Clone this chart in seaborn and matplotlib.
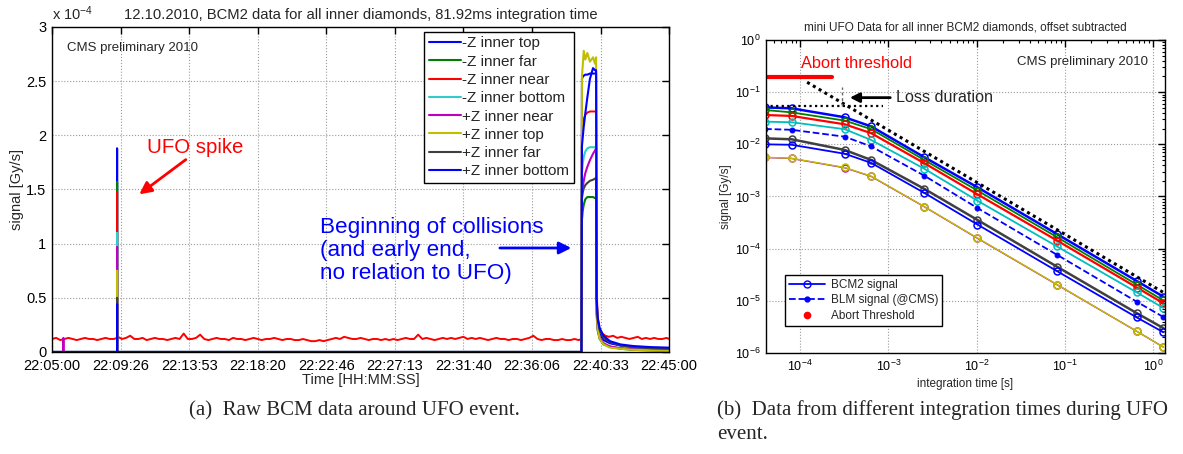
import numpy as np
import pandas as pd
import matplotlib
matplotlib.use("Agg")
import matplotlib.pyplot as plt
from matplotlib.lines import Line2D
from matplotlib.ticker import FixedLocator, LogLocator, NullFormatter
import seaborn as sns

# ---------------- data: left panel (signal in units of 1e-4 Gy/s) ----------------
channels = ["-Z inner top", "-Z inner far", "-Z inner near", "-Z inner bottom",
            "+Z inner near", "+Z inner top", "+Z inner far", "+Z inner bottom"]
channel_colors = ["#0000ff", "#008000", "#ff0000", "#33cccc",
                  "#bf00bf", "#bfbf00", "#404040", "#0000ff"]
time_tick_labels = ["22:05:00", "22:09:26", "22:13:53", "22:18:20", "22:22:46",
                    "22:27:13", "22:31:40", "22:36:06", "22:40:33", "22:45:00"]
time_span_s = 2400  # 22:05:00 -> 22:45:00

# key sample times (s after 22:05:00) for the quiet channels
key_t = [0, 44.0, 44.1, 44.2, 252.9, 253.0, 253.1, 2059, 2061, 2064, 2068, 2074, 2082,
         2092, 2104, 2112, 2116, 2118, 2122, 2130, 2145, 2170, 2210, 2260, 2330, 2400]
sig_mZ_top = [0, 0, 0, 0, 0, 1.88, 0, 0, 2.52, 2.54, 2.55, 2.56, 2.56, 2.57, 2.57, 2.57, 2.57,
              0.45, 0.26, 0.17, 0.11, 0.08, 0.06, 0.045, 0.035, 0.03]
sig_mZ_far = [0, 0, 0, 0, 0, 1.57, 0, 0, 1.22, 1.30, 1.36, 1.41, 1.43, 1.43, 1.43, 1.42, 1.43,
              0.35, 0.20, 0.12, 0.07, 0.05, 0.03, 0.02, 0.015, 0.01]
sig_mZ_bottom = [0, 0, 0, 0, 0, 1.10, 0, 0, 1.65, 1.74, 1.80, 1.85, 1.88, 1.89, 1.89, 1.89, 1.89,
                 0.40, 0.22, 0.13, 0.08, 0.05, 0.035, 0.025, 0.02, 0.015]
sig_pZ_near = [0, 0, 0.13, 0, 0, 0.97, 0, 0, 1.45, 1.52, 1.58, 1.65, 1.71, 1.77, 1.83, 1.86, 1.88,
               0.40, 0.22, 0.13, 0.08, 0.05, 0.035, 0.025, 0.02, 0.015]
sig_pZ_top = [0, 0, 0, 0, 0, 0.75, 0, 0, 2.55, 2.64, 2.78, 2.70, 2.76, 2.68, 2.72, 2.66, 2.72,
              0.40, 0.22, 0.12, 0.07, 0.04, 0.03, 0.02, 0.015, 0.01]
sig_pZ_far = [0, 0, 0, 0, 0, 0.50, 0, 0, 1.42, 1.47, 1.51, 1.54, 1.56, 1.58, 1.59, 1.60, 1.61,
              0.50, 0.30, 0.20, 0.13, 0.09, 0.06, 0.045, 0.035, 0.03]
sig_pZ_bottom = [0, 0, 0, 0, 0, 0.44, 0, 0, 1.90, 1.98, 2.08, 2.20, 2.35, 2.52, 2.62, 2.60, 2.60,
                 0.50, 0.32, 0.22, 0.15, 0.10, 0.07, 0.055, 0.045, 0.04]

# -Z inner near (red) has a visible noisy baseline; readings every 16 s before collisions
red_base_v = [0.12, 0.13, 0.11, 0.12, 0.13, 0.12, 0.11, 0.12, 0.13, 0.12, 0.12, 0.11, 0.12, 0.13, 0.12, 0.12,
              0.14, 0.12, 0.13, 0.15, 0.12, 0.12, 0.13, 0.11, 0.12, 0.13, 0.12, 0.12, 0.11, 0.12, 0.13, 0.12,
              0.17, 0.12, 0.12, 0.13, 0.16, 0.12, 0.11, 0.12, 0.13, 0.12, 0.12, 0.11, 0.13, 0.12, 0.12, 0.11,
              0.12, 0.13, 0.12, 0.11, 0.12, 0.12, 0.13, 0.12, 0.11, 0.12, 0.12, 0.11, 0.11, 0.12, 0.11, 0.10,
              0.10, 0.11, 0.10, 0.11, 0.12, 0.13, 0.12, 0.14, 0.13, 0.12, 0.12, 0.13, 0.12, 0.11, 0.12, 0.12,
              0.11, 0.12, 0.11, 0.12, 0.11, 0.12, 0.13, 0.12, 0.12, 0.16, 0.12, 0.13, 0.12, 0.11, 0.12, 0.13,
              0.12, 0.13, 0.12, 0.13, 0.14, 0.12, 0.13, 0.12, 0.13, 0.12, 0.11, 0.12, 0.13, 0.12, 0.12, 0.11,
              0.12, 0.12, 0.11, 0.12, 0.13, 0.15, 0.12, 0.11, 0.12, 0.12, 0.11, 0.11, 0.12, 0.11, 0.11, 0.12,
              0.11]
red_spike_t = [252.9, 253.0, 253.1]
red_spike_v = [0.13, 1.48, 0.13]
red_coll_t = [2059, 2061, 2064, 2068, 2074, 2082, 2092, 2104, 2112, 2116, 2118]
red_coll_v = [0.12, 2.05, 2.10, 2.15, 2.19, 2.21, 2.22, 2.22, 2.22, 2.22, 0.60]
red_tail_t = [2122, 2130, 2140, 2152, 2166, 2182, 2198, 2214, 2230, 2246, 2262, 2278, 2294,
              2310, 2326, 2342, 2358, 2374, 2390, 2400]
red_tail_v = [0.32, 0.20, 0.17, 0.15, 0.14, 0.15, 0.13, 0.14, 0.13, 0.12, 0.13, 0.14, 0.12,
              0.13, 0.12, 0.13, 0.12, 0.12, 0.13, 0.12]

# ---------------- data: right panel ----------------
int_times = [4e-5, 8e-5, 3.2e-4, 6.4e-4, 2.56e-3, 1.024e-2, 8.192e-2, 0.65536, 1.31072]
bcm_mZ_top = [5.1e-2, 4.9e-2, 3.3e-2, 2.2e-2, 5.65e-3, 1.5e-3, 1.9e-4, 2.4e-5, 1.2e-5]
bcm_mZ_far = [4.55e-2, 4.1e-2, 2.85e-2, 1.95e-2, 5.0e-3, 1.3e-3, 1.66e-4, 2.05e-5, 1.02e-5]
bcm_mZ_near = [3.65e-2, 3.5e-2, 2.42e-2, 1.63e-2, 4.35e-3, 1.1e-3, 1.43e-4, 1.8e-5, 9.0e-6]
bcm_mZ_bottom = [2.72e-2, 2.65e-2, 1.95e-2, 1.21e-2, 3.4e-3, 8.3e-4, 1.1e-4, 1.45e-5, 7.3e-6]
bcm_pZ_near = [5.6e-3, 5.35e-3, 3.55e-3, 2.42e-3, 6.35e-4, 1.58e-4, 2.03e-5, 2.6e-6, 1.3e-6]
bcm_pZ_top = [5.65e-3, 5.4e-3, 3.6e-3, 2.45e-3, 6.4e-4, 1.6e-4, 2.05e-5, 2.6e-6, 1.3e-6]
bcm_pZ_far = [1.3e-2, 1.25e-2, 7.8e-3, 5.0e-3, 1.4e-3, 3.55e-4, 4.5e-5, 5.8e-6, 3.0e-6]
bcm_pZ_bottom = [1.0e-2, 9.8e-3, 6.6e-3, 4.4e-3, 1.17e-3, 2.9e-4, 3.7e-5, 4.8e-6, 2.5e-6]
blm_signal = [1.97e-2, 1.9e-2, 1.4e-2, 9.1e-3, 2.5e-3, 6.0e-4, 7.6e-5, 9.6e-6, 4.9e-6]
abort_t = [4e-5, 2.3e-4]
abort_v = [0.195, 0.195]
loss_line_t = [1.2e-4, 1.31]
loss_line_v = [0.155, 1.45e-5]
plateau_t = [4e-5, 8.7e-4]
plateau_v = [0.054, 0.054]
duration_t = [3.0e-4, 3.0e-4]
duration_v = [0.054, 0.125]

# ---------------- style ----------------
sns.set_style("white")
plt.rcParams['font.family'] = ['Liberation Sans', 'DejaVu Sans']
plt.rcParams['mathtext.default'] = 'regular'
plt.rcParams['axes.edgecolor'] = 'black'
plt.rcParams['axes.linewidth'] = 1.0

fig = plt.figure(figsize=(11.83, 4.54), dpi=100)
ax1 = fig.add_axes([0.044, 0.2247, 0.5216, 0.7159])
ax2 = fig.add_axes([0.6475, 0.2225, 0.3373, 0.6894])

# ---------------- left panel ----------------
red_t = list(np.arange(0, 2049, 16)) + red_spike_t + red_coll_t + red_tail_t
red_v = red_base_v + red_spike_v + red_coll_v + red_tail_v
red_df = pd.DataFrame({"t": red_t, "v": red_v}).sort_values("t")

series_left = [sig_mZ_top, sig_mZ_far, None, sig_mZ_bottom,
               sig_pZ_near, sig_pZ_top, sig_pZ_far, sig_pZ_bottom]
for name, col, vals in zip(channels, channel_colors, series_left):
    if vals is None:
        sns.lineplot(x=red_df["t"], y=red_df["v"], ax=ax1, color=col, lw=1.4,
                     estimator=None, sort=False, legend=False)
    else:
        sns.lineplot(x=key_t, y=vals, ax=ax1, color=col, lw=1.5,
                     estimator=None, sort=False, legend=False)

ax1.set_xlim(0, time_span_s)
ax1.set_ylim(0, 3)
xt = [i * time_span_s / 9 for i in range(10)]
ax1.xaxis.set_major_locator(FixedLocator(xt))
ax1.set_xticklabels(time_tick_labels)
ax1.set_yticks([0, 0.5, 1, 1.5, 2, 2.5, 3])
ax1.set_yticklabels(["0", "0.5", "1", "1.5", "2", "2.5", "3"])
ax1.tick_params(direction="in", top=True, right=True, length=5, width=1,
                labelsize=10.5, colors="black")
ax1.tick_params(axis="x", pad=5)
ax1.tick_params(axis="y", pad=4)
ax1.grid(True, linestyle=":", color="#9a9a9a", lw=0.8)
for s in ax1.spines.values():
    s.set_visible(True)
    s.set_color("black")
ax1.set_xlabel("Time [HH:MM:SS]", fontsize=10.5, labelpad=0)
ax1.set_ylabel("signal [Gy/s]", fontsize=10.5)
ax1.yaxis.set_label_coords(-0.045, 0.5)
ax1.set_title("12.10.2010, BCM2 data for all inner diamonds, 81.92ms integration time",
              fontsize=10.6, pad=6)
ax1.text(0.0, 1.012, "x 10$^{-4}$", transform=ax1.transAxes, fontsize=10.5,
         ha="left", va="bottom")
ax1.text(0.0243, 0.935, "CMS preliminary 2010", transform=ax1.transAxes,
         fontsize=9.5, ha="left", va="center")
ax1.text(0.154, 0.628, "UFO spike", transform=ax1.transAxes, color="#ff0000",
         fontsize=14.7, ha="left", va="center")
ax1.annotate("", xy=(0.1378, 0.48), xytext=(0.2204, 0.597), xycoords="axes fraction",
             textcoords="axes fraction",
             arrowprops=dict(arrowstyle="-|>", color="#ff0000", lw=2, mutation_scale=18))
ax1.text(0.4344, 0.414, "Beginning of collisions\n(and early end,\nno relation to UFO)",
         transform=ax1.transAxes, color="#0000ff", fontsize=16.2, ha="left", va="top",
         linespacing=1.12)
ax1.annotate("", xy=(0.846, 0.32), xytext=(0.7212, 0.32), xycoords="axes fraction",
             textcoords="axes fraction",
             arrowprops=dict(arrowstyle="-|>", color="#0000ff", lw=2, mutation_scale=18))

handles1 = [Line2D([0], [0], color=c, lw=1.5) for c in channel_colors]
leg1 = ax1.legend(handles1, channels, loc="upper right", bbox_to_anchor=(0.846, 0.985),
                  fontsize=11, frameon=True, fancybox=False, framealpha=1,
                  edgecolor="black", handlelength=2.1, handletextpad=0.1,
                  labelspacing=0.28, borderpad=0.3, borderaxespad=0)
leg1.get_frame().set_linewidth(1.0)

# ---------------- right panel ----------------
bcm_series = [bcm_mZ_top, bcm_mZ_far, bcm_mZ_near, bcm_mZ_bottom,
              bcm_pZ_near, bcm_pZ_top, bcm_pZ_far, bcm_pZ_bottom]
bcm_colors = ["#0000ff", "#008000", "#ff0000", "#00bfbf",
              "#bf00bf", "#bfbf00", "#404040", "#0000ff"]
bcm_lw = [1.8, 1.3, 1.6, 1.3, 1.0, 1.0, 1.8, 1.3]
for vals, col, lw in zip(bcm_series, bcm_colors, bcm_lw):
    sns.lineplot(x=int_times, y=vals, ax=ax2, color=col, lw=lw, marker="o",
                 markersize=5, markerfacecolor="none", markeredgecolor=col,
                 markeredgewidth=1.1, estimator=None, sort=False, legend=False)
sns.lineplot(x=int_times, y=blm_signal, ax=ax2, color="#0000ff", lw=1.3,
             linestyle="--", marker="o", markersize=3.5, markerfacecolor="#0000ff",
             markeredgecolor="#0000ff", estimator=None, sort=False, legend=False)
sns.lineplot(x=loss_line_t, y=loss_line_v, ax=ax2, color="black", lw=2.2,
             linestyle=(0, (1, 1.2)), estimator=None, sort=False, legend=False)
sns.lineplot(x=plateau_t, y=plateau_v, ax=ax2, color="black", lw=1.6,
             linestyle=(0, (1, 1.5)), estimator=None, sort=False, legend=False)
sns.lineplot(x=duration_t, y=duration_v, ax=ax2, color="#666666", lw=1.0,
             linestyle=(0, (2, 2)), estimator=None, sort=False, legend=False)
sns.lineplot(x=abort_t, y=abort_v, ax=ax2, color="#ff0000", lw=3,
             estimator=None, sort=False, legend=False)

ax2.set_xscale("log")
ax2.set_yscale("log")
ax2.set_xlim(4.1e-5, 1.37)
ax2.set_ylim(1e-6, 1)
ax2.xaxis.set_major_locator(LogLocator(base=10, numticks=10))
ax2.xaxis.set_minor_locator(LogLocator(base=10, subs=np.arange(2, 10), numticks=20))
ax2.xaxis.set_minor_formatter(NullFormatter())
ax2.yaxis.set_major_locator(LogLocator(base=10, numticks=10))
ax2.yaxis.set_minor_locator(LogLocator(base=10, subs=np.arange(2, 10), numticks=20))
ax2.yaxis.set_minor_formatter(NullFormatter())
ax2.tick_params(which="major", direction="in", top=True, right=True, length=5,
                width=1, labelsize=9, colors="black", pad=4)
ax2.tick_params(which="minor", direction="in", top=True, right=True, length=2.5,
                width=0.8, colors="black")
ax2.grid(True, which="major", linestyle=":", color="#9a9a9a", lw=0.8)
for s in ax2.spines.values():
    s.set_visible(True)
    s.set_color("black")
ax2.set_xlabel("integration time [s]", fontsize=8.5, labelpad=3)
ax2.set_ylabel("signal [Gy/s]", fontsize=8.5)
ax2.yaxis.set_label_coords(-0.085, 0.5)
ax2.set_title("mini UFO Data for all inner BCM2 diamonds, offset subtracted",
              fontsize=8.5, pad=7)
ax2.text(1.026e-4, 0.36, "Abort threshold", color="#ff0000", fontsize=11.8,
         ha="left", va="center")
ax2.text(0.957, 0.93, "CMS preliminary 2010", transform=ax2.transAxes,
         fontsize=9.5, ha="right", va="center")
ax2.annotate("", xy=(3.4e-4, 0.0785), xytext=(1.13e-3, 0.0785),
             arrowprops=dict(arrowstyle="-|>", color="black", lw=2, mutation_scale=14))
ax2.text(1.223e-3, 0.0785, "Loss duration", fontsize=11.6, ha="left", va="center")

handles2 = [Line2D([0], [0], color="#0000ff", lw=1.3, marker="o", markersize=5,
                   markerfacecolor="none", markeredgecolor="#0000ff"),
            Line2D([0], [0], color="#0000ff", lw=1.3, linestyle="--", marker="o",
                   markersize=3.5, markerfacecolor="#0000ff", markeredgecolor="#0000ff"),
            Line2D([0], [0], color="#ff0000", lw=0, marker="o", markersize=4.5,
                   markerfacecolor="#ff0000", markeredgecolor="#ff0000")]
leg2 = ax2.legend(handles2, ["BCM2 signal", "BLM signal (@CMS)", "Abort Threshold"],
                  loc="lower left", bbox_to_anchor=(0.048, 0.086), fontsize=8.5,
                  frameon=True, fancybox=False, framealpha=1, edgecolor="black",
                  handlelength=3.0, handletextpad=0.5, labelspacing=0.3,
                  borderpad=0.35, borderaxespad=0)
leg2.get_frame().set_linewidth(1.0)

# ---------------- captions ----------------
serif = ["Liberation Serif", "DejaVu Serif"]
fig.text(0.300, 0.0947, "(a)  Raw BCM data around UFO event.", fontsize=15,
         family=serif, ha="center", va="center")
fig.text(0.606, 0.118, "(b)  Data from different integration times during UFO\nevent.",
         fontsize=15, family=serif, ha="left", va="top", linespacing=1.33)

fig.savefig("out.png", dpi=100, facecolor="white")
